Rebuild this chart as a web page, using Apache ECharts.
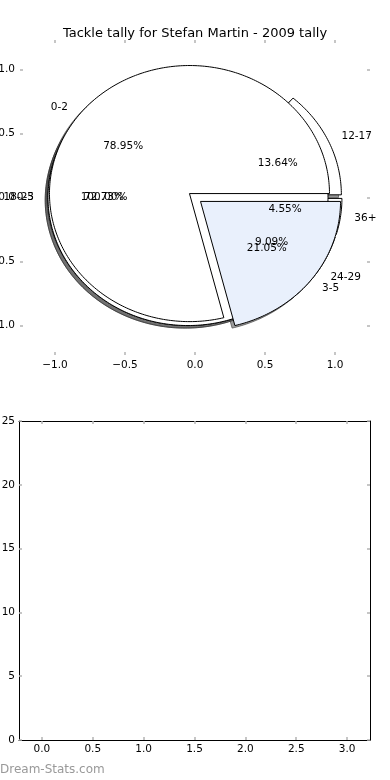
<!DOCTYPE html>
<html>
<head>
<meta charset="utf-8">
<script src="https://cdn.jsdelivr.net/npm/echarts@6/dist/echarts.min.js"></script>
<style>
html, body { margin: 0; padding: 0; background: #fff; }
#myChart { width: 390px; height: 780px; }
</style>
</head>
<body>
<div id="myChart"></div>
<script>
// tackle ranges, three tallies drawn on top of each other
const pieALabels = ['0-2', '3-5']
const pieAValues = [15, 4]
const pieBLabels = ['12-17', '18-23', '24-29', '36+']
const pieBValues = [3, 16, 2, 1]
const pieCLabels = ['0-5']
const pieCValues = [1]
// axis ticks
const pieTicks = [-1, -0.5, 0, 0.5, 1]
const barXTicks = [0, 0.5, 1, 1.5, 2, 2.5, 3]

const FONT = 'DejaVu Sans'
const TICK = '#b4b4b4'

function geom(values, i, explode) {
  const total = values.reduce((a, b) => a + b, 0)
  let start = 0
  for (let k = 0; k < i; k++) start += values[k]
  const t1 = 360 * start / total
  const t2 = 360 * (start + values[i]) / total
  const mid = (t1 + t2) / 2 * Math.PI / 180
  return { t1, t2, mid, total, dx: explode * Math.cos(mid), dy: explode * Math.sin(mid) }
}

// offset: extra shift of the wedge (used for the shadow)
function wedgeRender(values, style, explode, offset) {
  return function (params, api) {
    const g = geom(values, params.dataIndex, explode)
    const ox = g.dx + offset, oy = g.dy + offset
    const pts = []
    if (g.t2 - g.t1 < 359.999) pts.push(api.coord([ox, oy]))
    const n = Math.max(2, Math.ceil(g.t2 - g.t1))
    for (let j = 0; j <= n; j++) {
      const a = (g.t1 + (g.t2 - g.t1) * j / n) * Math.PI / 180
      pts.push(api.coord([ox + Math.cos(a), oy + Math.sin(a)]))
    }
    return { type: 'polygon', shape: { points: pts }, style: style(params.dataIndex) }
  }
}

function textRender(values, labels, explode) {
  return function (params, api) {
    const i = params.dataIndex
    const g = geom(values, i, explode)
    const lx = g.dx + 1.1 * Math.cos(g.mid), ly = g.dy + 1.1 * Math.sin(g.mid)
    const px = g.dx + 0.6 * Math.cos(g.mid), py = g.dy + 0.6 * Math.sin(g.mid)
    const lp = api.coord([lx, ly]), pp = api.coord([px, py])
    return {
      type: 'group',
      children: [
        { type: 'text', x: lp[0], y: lp[1],
          style: { text: labels[i], fill: '#000', fontSize: 10.5, fontFamily: FONT,
                   align: lx > 0 ? 'left' : 'right', verticalAlign: 'middle' } },
        { type: 'text', x: pp[0], y: pp[1],
          style: { text: (values[i] / g.total * 100).toFixed(2) + '%', fill: '#000', fontSize: 10.5,
                   fontFamily: FONT, align: 'center', verticalAlign: 'middle' } }
      ]
    }
  }
}

const fmt1 = v => (v < 0 ? '\u2212' : '') + Math.abs(v).toFixed(1)

function tickAxis(extra) {
  return Object.assign({
    type: 'value',
    splitLine: { show: false },
    axisLine: { show: false, onZero: false },
    axisTick: { show: true, inside: true, length: 3, lineStyle: { color: TICK, width: 1.5 } },
    axisLabel: { show: false }
  }, extra)
}

const frameLine = { show: true, onZero: false, lineStyle: { color: '#000', width: 1 } }
const ticksAt = vals => ({ show: true, inside: true, length: 3, customValues: vals, lineStyle: { color: TICK, width: 1.5 } })
const labelsAt = (vals, margin) => ({ show: true, customValues: vals, formatter: fmt1, margin: margin, fontSize: 10.5, color: '#000', fontFamily: FONT })

let myChart = echarts.init(document.getElementById('myChart'))

const pies = [
  { labels: pieBLabels, values: pieBValues, colors: ['#ffffff'], z: 2 },
  { labels: pieCLabels, values: pieCValues, colors: ['#ffffff'], z: 3 },
  { labels: pieALabels, values: pieAValues, colors: ['#ffffff', '#e9f0fc'], z: 4 }
]
const EXPLODE = 0.05

const series = []
pies.forEach(p => {
  const base = { type: 'custom', coordinateSystem: 'cartesian2d', xAxisIndex: 0, yAxisIndex: 0,
                 clip: false, silent: true, data: p.values }
  // shadows sit under every wedge
  series.push(Object.assign({}, base, { z: 1,
    renderItem: wedgeRender(p.values, () => ({ fill: 'rgba(77,77,77,0.55)', stroke: 'rgba(50,50,50,0.6)', lineWidth: 1 }), EXPLODE, -0.02) }))
  series.push(Object.assign({}, base, { z: p.z,
    renderItem: wedgeRender(p.values, i => ({ fill: p.colors[i % p.colors.length], stroke: '#000', lineWidth: 1 }), EXPLODE, 0) }))
  series.push(Object.assign({}, base, { z: 10,
    renderItem: textRender(p.values, p.labels, EXPLODE) }))
})

myChart.setOption({
  animation: false,
  title: {
    text: 'Tackle tally for Stefan Martin - 2009 tally',
    left: 'center', top: 22,
    textStyle: { fontSize: 13, fontWeight: 'normal', color: '#000', fontFamily: FONT }
  },
  grid: [
    { left: 20, right: 20, top: 40, bottom: 425, containLabel: false, outerBoundsMode: 'none' },
    { left: 19, right: 20, top: 421, bottom: 40, containLabel: false, outerBoundsMode: 'none' }
  ],
  xAxis: [
    tickAxis({ gridIndex: 0, position: 'bottom', min: -1.25, max: 1.25,
      axisTick: ticksAt(pieTicks), axisLabel: labelsAt(pieTicks, 5) }),
    tickAxis({ gridIndex: 0, position: 'top', min: -1.25, max: 1.25,
      axisTick: ticksAt(pieTicks) }),
    tickAxis({ gridIndex: 1, position: 'bottom', min: -0.225, max: 3.225,
      axisLine: frameLine, axisTick: ticksAt(barXTicks), axisLabel: labelsAt(barXTicks, 4) }),
    tickAxis({ gridIndex: 1, position: 'top', min: -0.225, max: 3.225,
      axisLine: frameLine, axisTick: ticksAt(barXTicks) })
  ],
  yAxis: [
    tickAxis({ gridIndex: 0, position: 'left', min: -1.23, max: 1.23,
      axisTick: ticksAt(pieTicks), axisLabel: labelsAt(pieTicks, 5) }),
    tickAxis({ gridIndex: 0, position: 'right', min: -1.23, max: 1.23,
      axisTick: ticksAt(pieTicks) }),
    tickAxis({ gridIndex: 1, position: 'left', min: 0, max: 25, interval: 5,
      axisLine: frameLine,
      axisLabel: { show: true, margin: 4, fontSize: 10.5, color: '#000', fontFamily: FONT } }),
    tickAxis({ gridIndex: 1, position: 'right', min: 0, max: 25, interval: 5,
      axisLine: frameLine })
  ],
  graphic: [
    { type: 'text', left: 0, top: 764,
      style: { text: 'Dream-Stats.com', fill: '#999', fontSize: 12, fontFamily: FONT } }
  ],
  series: series
})
</script>
</body>
</html>
